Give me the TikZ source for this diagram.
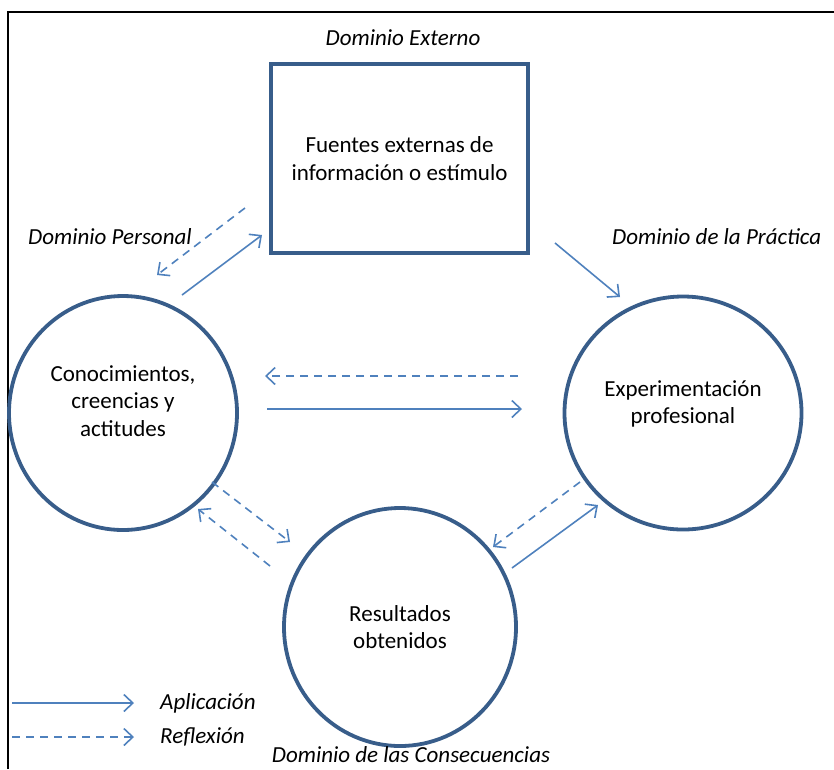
\documentclass[tikz,border=0pt]{standalone}
\usepackage{fontspec}
\setmainfont{Carlito}
\usetikzlibrary{arrows.meta,shapes.geometric}
\definecolor{ringblue}{RGB}{56,93,138}
\definecolor{arrowblue}{RGB}{79,129,189}
\begin{document}
\begin{tikzpicture}[x=1pt,y=-1pt,
  every node/.style={font=\fontsize{23}{27.5}\selectfont, inner sep=0pt},
  ringnode/.style={ellipse, draw=ringblue, line width=3.8pt},
  sourcebox/.style={rectangle, draw=ringblue, line width=3.8pt, align=center},
  ringtext/.style={align=center},
  domlabel/.style={font=\fontsize{23}{27.5}\selectfont\itshape},
  apply/.style={draw=arrowblue, line width=1.6pt,
    -{Straight Barb[length=9pt,width=17pt,line width=1.6pt]}},
  reflect/.style={apply, dash pattern=on 8pt off 6pt}]
  \useasboundingbox (0,0) rectangle (834,769);
  % frame
  \draw[line width=2pt] (8,769) -- (8,12) -- (834,12);

  % domains
  \node[sourcebox, minimum width=257pt, minimum height=189pt] (ext) at (399.5,158.5)
    {Fuentes externas de\\información o estímulo};
  \node[ringnode, minimum width=228pt, minimum height=234pt] (pers) at (123,413) {};
  \node[ringnode, minimum width=237pt, minimum height=233pt] (prac) at (683,413) {};
  \node[ringnode, minimum width=232pt, minimum height=238pt] (cons) at (400,627) {};
  \node[ringtext] (perstext) at ([yshift=12pt]pers.center)
    {Conocimientos,\\creencias y\\actitudes};
  \node[ringtext] (practext) at ([yshift=9pt]prac.center)
    {Experimentación\\profesional};
  \node[ringtext] (constext) at (cons.center) {Resultados\\obtenidos};

  % domain labels
  \node[domlabel] (lext) at (403,38) {Dominio Externo};
  \node[domlabel, anchor=west] (lpers) at (28,237) {Dominio Personal};
  \node[domlabel, anchor=west] (lprac) at (612,237) {Dominio de la Práctica};
  \node[domlabel] (lcons) at (411,755) {Dominio de las Consecuencias};

  % arrow end points
  \coordinate (pe1) at (245,208);  \coordinate (pe2) at (157,275);
  \coordinate (pe3) at (182,295);  \coordinate (pe4) at (262,235);
  \coordinate (ep1) at (555,243);  \coordinate (ep2) at (620,297);
  \coordinate (pp1) at (518,376);  \coordinate (pp2) at (265,376);
  \coordinate (pp3) at (267,409);  \coordinate (pp4) at (522,409);
  \coordinate (pc1) at (212,482);  \coordinate (pc2) at (290,542);
  \coordinate (pc3) at (270,566);  \coordinate (pc4) at (198,509);
  \coordinate (cp1) at (580,482);  \coordinate (cp2) at (493,547);
  \coordinate (cp3) at (512,568);  \coordinate (cp4) at (598,505);

  % arrows
  \draw[reflect] (pe1) -- (pe2);
  \draw[apply] (pe3) -- (pe4);
  \draw[apply] (ep1) -- (ep2);
  \draw[reflect] (pp1) -- (pp2);
  \draw[apply] (pp3) -- (pp4);
  \draw[reflect] (pc1) -- (pc2);
  \draw[reflect] (pc3) -- (pc4);
  \draw[reflect] (cp1) -- (cp2);
  \draw[apply] (cp3) -- (cp4);

  % legend
  \coordinate (la1) at (12,703); \coordinate (la2) at (134,703);
  \coordinate (lr1) at (12,737); \coordinate (lr2) at (134,737);
  \draw[apply] (la1) -- (la2);
  \draw[reflect] (lr1) -- (lr2);
  \node[domlabel, anchor=west] (tapp) at (160,703) {Aplicación};
  \node[domlabel, anchor=west] (tref) at (160,737) {Reflexión};
\end{tikzpicture}
\end{document}
